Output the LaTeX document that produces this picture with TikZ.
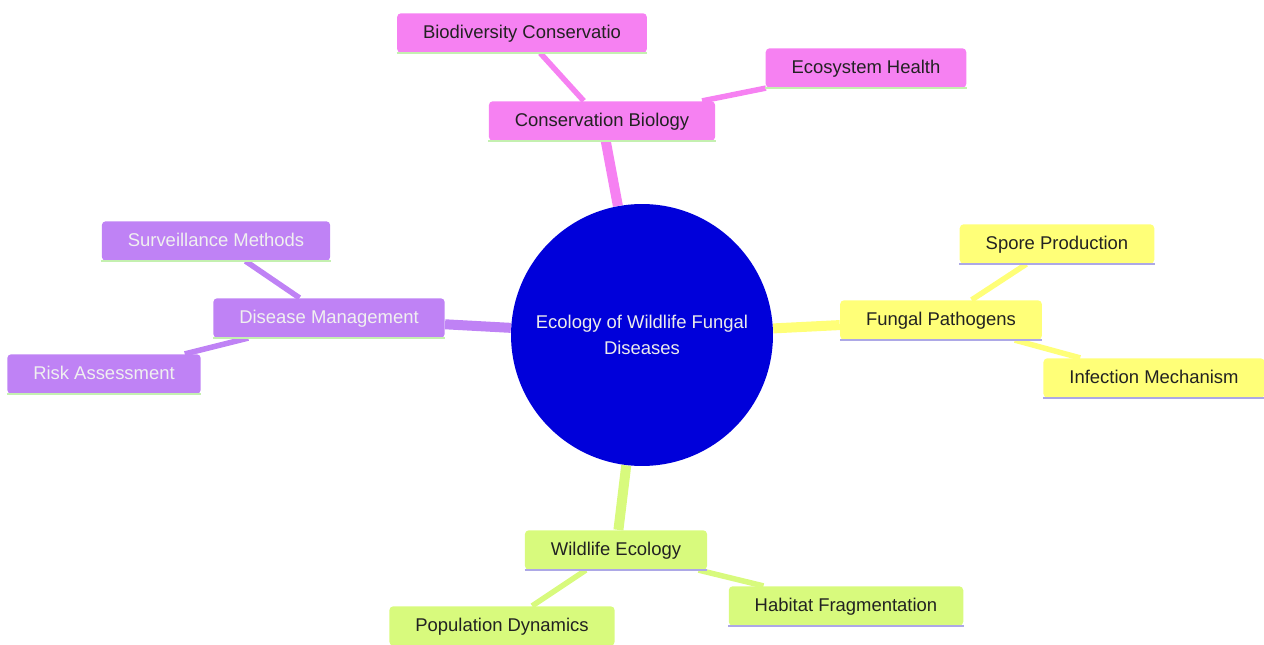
\documentclass[tikz,border=0pt]{standalone}
\usepackage{fontspec}
\setmainfont{Liberation Sans}
\usetikzlibrary{backgrounds}

\definecolor{pinkbranch}{HTML}{F681F2}
\definecolor{yellowbranch}{HTML}{FFFF78}
\definecolor{purplebranch}{HTML}{BF82F5}
\definecolor{greenbranch}{HTML}{D8FA7D}
\definecolor{rootblue}{HTML}{0000DA}
\definecolor{greenrim}{HTML}{C4F0B0}
\definecolor{lavenderrim}{HTML}{ADA8E6}
\definecolor{darktext}{HTML}{222222}

\begin{document}
\begin{tikzpicture}[x = 0.02cm, y = -0.02cm,
        box/.style = {rectangle, rounded corners = 0.08cm, minimum height = 0.79cm,
            inner xsep = 0.52cm, text = darktext, text depth = 0.06cm,
            font = \fontsize{10.5}{13}\selectfont},
        rootedge/.style = {line width = 0.2cm},
        leafedge/.style = {line width = 0.11cm},
        rim/.style = {line width = 0.045cm}]

        \useasboundingbox (0, 0) rectangle (1264, 645);

        % Central circle.
        \node [circle, fill = rootblue, minimum size = 5.24cm, align = center,
            text = white!92!black, font = \fontsize{10.5}{15}\selectfont]
            (root) at (642, 335) {Ecology of Wildlife Fungal\\Diseases};

        % Conservation branch.
        \node [box, fill = pinkbranch] (cons) at (602, 121) {Conservation Biology};
        \node [box, fill = pinkbranch] (biodiv) at (522, 33) {Biodiversity Conservatio};
        \node [box, fill = pinkbranch] (ecohealth) at (866, 68) {Ecosystem Health};

        % Fungal branch.
        \node [box, fill = yellowbranch] (fungal) at (941, 320) {Fungal Pathogens};
        \node [box, fill = yellowbranch] (spore) at (1057, 244) {Spore Production};
        \node [box, fill = yellowbranch] (infect) at (1154, 378) {Infection Mechanism};

        % Management branch.
        \node [box, fill = purplebranch, text = white!94!black] (manage) at (329, 318) {Disease Management};
        \node [box, fill = purplebranch, text = white!94!black] (surveil) at (216, 241) {Surveillance Methods};
        \node [box, fill = purplebranch, text = white!94!black] (risk) at (104, 374) {Risk Assessment};

        % Wildlife branch.
        \node [box, fill = greenbranch] (wildlife) at (616, 550) {Wildlife Ecology};
        \node [box, fill = greenbranch] (popdyn) at (502, 626) {Population Dynamics};
        \node [box, fill = greenbranch] (habitat) at (846, 606) {Habitat Fragmentation};

        % Bottom rims of the boxes.
        \foreach \n in {cons, biodiv, ecohealth, manage, surveil, risk}
            \draw [rim, greenrim] (\n.south west) -- (\n.south east);
        \foreach \n in {fungal, spore, infect, wildlife, popdyn, habitat}
            \draw [rim, lavenderrim] (\n.south west) -- (\n.south east);

        % Connectors behind the nodes.
        \begin{pgfonlayer}{background}
            \draw [rootedge, pinkbranch] (root) to (cons);
            \draw [rootedge, yellowbranch] (root) to (fungal);
            \draw [rootedge, purplebranch] (root) to (manage);
            \draw [rootedge, greenbranch] (root) to (wildlife);

            \draw [leafedge, pinkbranch] (cons) to (biodiv);
            \draw [leafedge, pinkbranch] (cons) to (ecohealth);
            \draw [leafedge, yellowbranch] (fungal) to (spore);
            \draw [leafedge, yellowbranch] (fungal) to (infect);
            \draw [leafedge, purplebranch] (manage) to (surveil);
            \draw [leafedge, purplebranch] (manage) to (risk);
            \draw [leafedge, greenbranch] (wildlife) to (popdyn);
            \draw [leafedge, greenbranch] (wildlife) to (habitat);
        \end{pgfonlayer}
    \end{tikzpicture}
\end{document}
